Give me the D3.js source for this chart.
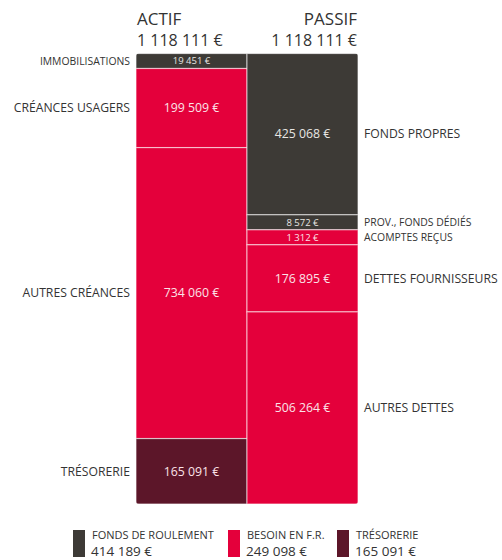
<!DOCTYPE html>
<meta charset="utf-8">
<style>
  body { margin: 0; background: #fff; }
  svg text { font-family: "Open Sans", sans-serif; }
</style>
<svg width="502" height="560"></svg>
<script src="https://d3js.org/d3.v7.min.js"></script>
<script>

// bilan data
var actifLabels = ["IMMOBILISATIONS", "CRÉANCES USAGERS", "AUTRES CRÉANCES", "TRÉSORERIE"]
var actifValues = [19451, 199509, 734060, 165091]
var actifKinds  = ["fr", "bfr", "bfr", "tres"]

var passifLabels = ["FONDS PROPRES", "PROV., FONDS DÉDIÉS", "ACOMPTES REÇUS", "DETTES FOURNISSEURS", "AUTRES DETTES"]
var passifValues = [425068, 8572, 1312, 176895, 506264]
var passifKinds  = ["fr", "fr", "bfr", "bfr", "bfr"]

var legendLabels = ["FONDS DE ROULEMENT", "BESOIN EN F.R.", "TRÉSORERIE"]
var legendValues = [414189, 249098, 165091]
var legendKinds  = ["fr", "bfr", "tres"]

var colors = { fr: "#3d3a36", bfr: "#e4003b", tres: "#5c1629" }

var fmt = function (v) {
  return d3.format(",")(v).replace(/,/g, " ") + " €"
}

var svg = d3.select("svg")
var topY = 53.5, bottomY = 504, minH = 15
var H = bottomY - topY

// columns side by side
var x = d3.scaleBand().domain(["actif", "passif"]).range([136, 358]).padding(0)

function layout(values, labels, kinds) {
  var total = d3.sum(values)
  var small = values.map(function (v) { return v / total * H < minH })
  var bigSum = d3.sum(values.filter(function (v, i) { return !small[i] }))
  var nSmall = small.filter(Boolean).length
  var y = d3.scaleLinear().domain([0, bigSum]).range([0, H - nSmall * minH])
  var pos = topY
  return values.map(function (v, i) {
    var h = small[i] ? minH : y(v)
    var d = { value: v, label: labels[i], kind: kinds[i], y0: pos, h: h, small: small[i] }
    pos += h
    return d
  })
}

var actif = layout(actifValues, actifLabels, actifKinds)
var passif = layout(passifValues, passifLabels, passifKinds)

// rounded outer corners
svg.append("defs").append("clipPath").attr("id", "clip")
  .append("rect")
  .attr("x", x("actif")).attr("y", topY)
  .attr("width", x.bandwidth() * 2).attr("height", H)
  .attr("rx", 3)

var chart = svg.append("g").attr("clip-path", "url(#clip)")

function drawColumn(data, col) {
  var g = chart.append("g")
  g.selectAll("rect")
    .data(data)
    .enter().append("rect")
      .attr("x", x(col))
      .attr("y", function (d) { return d.y0 })
      .attr("width", x.bandwidth())
      .attr("height", function (d) { return d.h })
      .attr("fill", function (d) { return colors[d.kind] })
      .attr("stroke", "rgba(255,255,255,0.55)")
      .attr("stroke-width", 1.2)

  svg.append("g").selectAll("text")
    .data(data)
    .enter().append("text")
      .attr("x", x(col) + x.bandwidth() / 2)
      .attr("y", function (d) { return d.y0 + d.h / 2 })
      .attr("dy", "0.35em")
      .attr("text-anchor", "middle")
      .attr("fill", function (d) { return d.kind === "fr" ? "#e8e6e3" : "#fbe3e8" })
      .style("font-size", function (d) { return d.small ? "9.5px" : "12.3px" })
      .text(function (d) { return fmt(d.value) })

  var left = col === "actif"
  svg.append("g").selectAll("text")
    .data(data)
    .enter().append("text")
      .attr("x", left ? x(col) - 6 : x(col) + x.bandwidth() + 6)
      .attr("y", function (d) { return d.y0 + d.h / 2 })
      .attr("dy", "0.35em")
      .attr("text-anchor", left ? "end" : "start")
      .attr("fill", "#333")
      .style("font-size", function (d) { return d.small ? "10.4px" : "12.2px" })
      .text(function (d) { return d.label })
}

drawColumn(actif, "actif")
drawColumn(passif, "passif")

// headers
var heads = [
  { name: "ACTIF", total: d3.sum(actifValues), x: x("actif") + 1, anchor: "start" },
  { name: "PASSIF", total: d3.sum(passifValues), x: x("passif") + x.bandwidth() - 1, anchor: "end" }
]
heads.forEach(function (h) {
  svg.append("text").attr("x", h.x).attr("y", 24.5)
    .attr("text-anchor", h.anchor).attr("fill", "#333")
    .style("font-size", "17px").text(h.name)
  svg.append("text").attr("x", h.x).attr("y", 46)
    .attr("text-anchor", h.anchor).attr("fill", "#333")
    .style("font-size", "16px").text(fmt(h.total))
})

// legend
var legendX = [73, 228, 337]
var legend = svg.append("g").selectAll("g")
  .data(legendLabels)
  .enter().append("g")
    .attr("transform", function (d, i) { return "translate(" + legendX[i] + ",530)" })

legend.append("rect")
  .attr("width", 12).attr("height", 27)
  .attr("fill", function (d, i) { return colors[legendKinds[i]] })

legend.append("text")
  .attr("x", 19).attr("y", 8.5)
  .attr("fill", "#333").style("font-size", "11px")
  .text(function (d) { return d })

legend.append("text")
  .attr("x", 18).attr("y", 26)
  .attr("fill", "#333").style("font-size", "13.5px")
  .text(function (d, i) { return fmt(legendValues[i]) })

</script>
